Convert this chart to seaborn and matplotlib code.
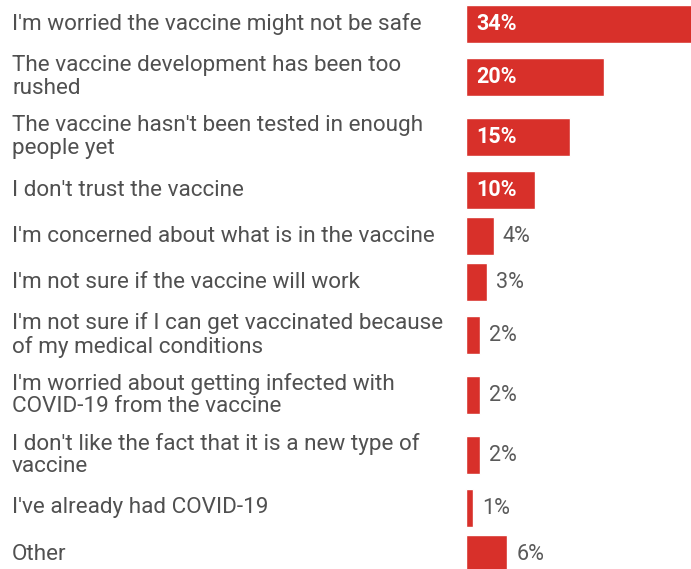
import numpy as np
import pandas as pd
import seaborn as sns
import matplotlib.pyplot as plt

# Reasons for not wanting the vaccine (labels wrapped as in the source)
reasons = [
    "I'm worried the vaccine might not be safe",
    "The vaccine development has been too\nrushed",
    "The vaccine hasn't been tested in enough\npeople yet",
    "I don't trust the vaccine",
    "I'm concerned about what is in the vaccine",
    "I'm not sure if the vaccine will work",
    "I'm not sure if I can get vaccinated because\nof my medical conditions",
    "I'm worried about getting infected with\nCOVID-19 from the vaccine",
    "I don't like the fact that it is a new type of\nvaccine",
    "I've already had COVID-19",
    "Other",
]
shares = [34, 20, 15, 10, 4, 3, 2, 2, 2, 1, 6]

# Row heights grow with the number of label lines
lines = np.array([r.count("\n") + 1 for r in reasons])
row_h = 46 + 14 * (lines - 1)
ypos = 24 + np.concatenate([[0], np.cumsum((row_h[:-1] + row_h[1:]) / 2)])

df = pd.DataFrame({"reason": reasons, "share": shares, "y": ypos})

sns.set_style("white")
plt.rcParams["font.family"] = ["Roboto", "DejaVu Sans"]

fig = plt.figure(figsize=(6.91, 5.69), dpi=100)
ax = fig.add_axes([466 / 691, 0, 225 / 691, 1])

sns.barplot(data=df, x="share", y="y", orient="h", native_scale=True,
            color="#d8302a", saturation=1, width=0.82, ax=ax)

ax.set_xlim(0, 225 / 6.9)
ax.set_ylim(569, 0)
ax.axis("off")

trans = ax.get_yaxis_transform()
for r, v, y in zip(df["reason"], df["share"], df["y"]):
    ax.text(-454 / 225, y, r, transform=trans, ha="left", va="center",
            fontsize=16.2, color="#505050", linespacing=1.1)
    if v >= 10:
        ax.text(1.45, y, f"{v}%", ha="left", va="center", fontsize=15.5,
                color="white", fontweight="bold")
    else:
        ax.text(v + 1.35, y, f"{v}%", ha="left", va="center", fontsize=15.5,
                color="#5a5a5a")

fig.savefig("out.png", dpi=100, facecolor="white")
